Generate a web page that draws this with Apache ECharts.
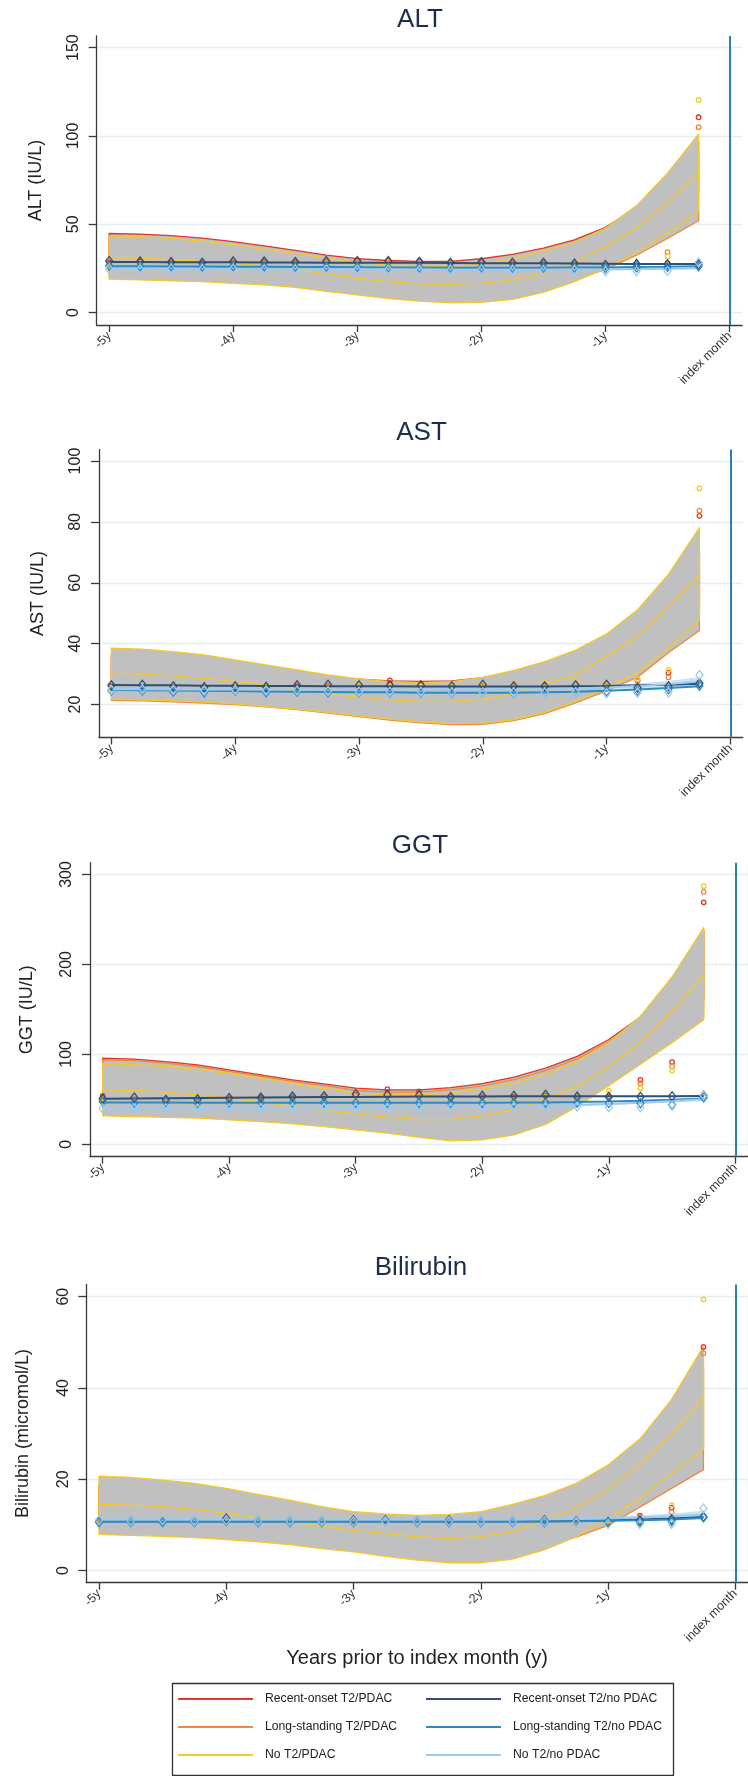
<!DOCTYPE html>
<html>
<head>
<meta charset="utf-8">
<title>Liver function tests before index month</title>
<script src="https://cdn.jsdelivr.net/npm/echarts@6/dist/echarts.min.js"></script>
<style>
  html, body { margin: 0; padding: 0; background: #ffffff; }
  #chart { width: 748px; height: 1776px; }
</style>
</head>
<body>
<div id="chart"></div>
<script>
// ---- Time axis: quarters before the index month, in years ----
const QUARTERS = [-5, -4.75, -4.5, -4.25, -4, -3.75, -3.5, -3.25, -3, -2.75, -2.5, -2.25, -2, -1.75, -1.5, -1.25, -1, -0.75, -0.5, -0.25];
const X_TICKS = [-5, -4, -3, -2, -1, 0];
const X_TICK_LABELS = ['-5y', '-4y', '-3y', '-2y', '-1y', 'index month'];
const INDEX_MONTH = 0;

const GROUPS_PDAC = ['Recent-onset T2/PDAC', 'Long-standing T2/PDAC', 'No T2/PDAC'];
const GROUPS_NO_PDAC = ['Recent-onset T2/no PDAC', 'Long-standing T2/no PDAC', 'No T2/no PDAC'];

// ---- ALT ----
const ALT_Y_TICKS = [0, 50, 100, 150];
const ALT_RED_HI = [44.8, 44.5, 43.6, 42.2, 40.2, 37.8, 35.2, 32.6, 30.6, 29.5, 29.0, 29.0, 30.5, 33.0, 36.5, 41.2, 48.3, 59.5, 77.0, 97.0];
const ALT_RED_LO = [24.0, 24.0, 23.5, 23.0, 22.0, 21.0, 19.5, 18.0, 16.5, 15.5, 15.0, 15.0, 16.0, 18.0, 21.5, 26.0, 33.0, 42.0, 55.0, 68.0];
const ALT_ORG_HI = [41.0, 41.0, 40.0, 38.5, 36.5, 34.0, 31.5, 29.0, 27.0, 25.5, 24.5, 24.5, 26.0, 28.5, 32.0, 37.0, 44.0, 55.0, 72.0, 92.0];
const ALT_ORG_LO = [21.0, 21.0, 20.5, 20.0, 19.5, 18.5, 17.5, 16.0, 14.5, 13.0, 12.0, 11.5, 12.0, 13.0, 15.0, 18.5, 24.5, 32.5, 42.0, 52.0];
const ALT_YEL_HI = [43.4, 43.0, 42.0, 40.5, 38.5, 36.0, 33.5, 31.0, 28.5, 27.0, 26.0, 26.0, 27.5, 30.5, 35.0, 39.6, 47.8, 60.6, 79.0, 101.0];
const ALT_YEL_FIT = [31.0, 30.8, 30.0, 29.0, 28.0, 26.5, 24.5, 22.0, 19.5, 17.5, 16.3, 16.0, 16.6, 18.5, 22.5, 28.5, 37.4, 47.8, 62.3, 79.0];
const ALT_YEL_LO = [19.0, 18.5, 18.0, 17.5, 16.6, 15.7, 14.3, 12.0, 10.0, 8.0, 6.5, 5.5, 5.8, 7.5, 11.5, 17.5, 25.0, 34.0, 45.0, 57.0];
const ALT_RED_OBS = [28.5, 29.0, 28.5, 28.0, 28.5, 29.0, 28.5, 29.0, 29.5, 29.5, 29.0, 28.5, 28.5, 28.0, 28.0, 27.5, 27.0, 27.5, 28.0, 110.6];
const ALT_ORG_OBS = [27.5, 28.0, 28.0, 27.5, 28.0, 28.0, 28.0, 28.5, 28.5, 28.5, 28.0, 28.0, 28.0, 27.5, 27.5, 27.0, 26.5, 27.0, 34.2, 105.0];
const ALT_YEL_OBS = [26.0, 26.5, 26.0, 26.0, 26.5, 26.0, 26.0, 26.5, 26.5, 26.0, 26.0, 26.0, 26.0, 25.5, 25.5, 25.5, 27.0, 26.5, 31.8, 120.4];
const ALT_NAVY_FIT = [28.6, 28.6, 28.5, 28.5, 28.5, 28.4, 28.4, 28.3, 28.3, 28.2, 28.2, 28.1, 28.0, 28.0, 27.9, 27.8, 27.7, 27.6, 27.5, 27.5];
const ALT_NAVY_OBS = [29.2, 29.0, 28.6, 28.2, 29.0, 29.0, 28.6, 29.2, 29.2, 29.2, 28.8, 28.2, 28.6, 28.2, 28.2, 27.8, 27.0, 27.6, 27.4, 27.4];
const ALT_MID_FIT = [26.2, 26.2, 26.1, 26.1, 26.0, 26.0, 25.9, 25.8, 25.7, 25.6, 25.5, 25.4, 25.4, 25.4, 25.4, 25.5, 25.6, 25.8, 26.0, 26.3];
const ALT_MID_OBS = [26.5, 26.3, 26.2, 26.0, 26.3, 26.2, 26.0, 26.0, 25.8, 25.6, 25.4, 25.4, 25.4, 25.3, 25.4, 25.4, 25.2, 25.6, 25.8, 26.2];
const ALT_LIGHT_FIT = [24.8, 24.8, 24.8, 24.7, 24.7, 24.6, 24.6, 24.5, 24.5, 24.4, 24.4, 24.3, 24.3, 24.3, 24.3, 24.4, 24.5, 24.7, 25.0, 25.4];
const ALT_LIGHT_LO = [24.2, 24.3, 24.3, 24.3, 24.3, 24.2, 24.2, 24.1, 24.1, 24.0, 24.0, 23.9, 23.9, 23.9, 23.9, 23.9, 23.9, 24.0, 24.1, 24.3];
const ALT_LIGHT_HI = [25.4, 25.3, 25.3, 25.1, 25.1, 25.0, 25.0, 24.9, 24.9, 24.8, 24.8, 24.7, 24.7, 24.7, 24.7, 24.9, 25.1, 25.4, 25.9, 26.5];
const ALT_LIGHT_OBS = [24.8, 24.6, 24.8, 24.6, 24.8, 24.6, 24.4, 24.6, 24.4, 24.4, 24.2, 24.2, 24.4, 24.2, 24.0, 24.2, 23.4, 23.4, 23.6, 28.4];

// ---- AST ----
const AST_Y_TICKS = [20, 40, 60, 80, 100];
const AST_RED_HI = [36.5, 36.3, 35.6, 34.6, 33.2, 31.6, 30.2, 29.0, 28.3, 27.8, 27.6, 27.8, 28.8, 30.4, 32.5, 35.5, 40.0, 47.0, 57.0, 70.0];
const AST_RED_LO = [24.0, 24.0, 23.8, 23.5, 23.0, 22.4, 21.6, 20.8, 20.0, 19.4, 19.0, 18.8, 19.2, 20.3, 22.2, 25.0, 29.0, 34.5, 42.0, 52.0];
const AST_ORG_HI = [35.0, 34.8, 34.2, 33.3, 32.0, 30.6, 29.2, 27.8, 26.8, 26.2, 26.0, 26.2, 27.2, 28.8, 31.0, 34.2, 38.8, 45.5, 55.0, 67.0];
const AST_ORG_LO = [21.4, 21.2, 20.9, 20.5, 20.0, 19.2, 18.3, 17.2, 16.0, 14.9, 14.0, 13.4, 13.5, 14.7, 17.0, 20.5, 24.5, 29.0, 37.0, 44.3];
const AST_YEL_HI = [38.5, 38.2, 37.4, 36.3, 34.7, 33.0, 31.4, 29.7, 28.4, 27.5, 27.2, 27.5, 28.9, 31.2, 34.1, 37.9, 43.2, 51.1, 62.8, 78.1];
const AST_YEL_FIT = [30.3, 30.0, 29.4, 28.6, 27.6, 26.5, 24.8, 23.4, 22.4, 21.5, 21.0, 21.0, 21.8, 23.7, 26.5, 29.7, 35.8, 42.3, 52.0, 62.6];
const AST_YEL_LO = [21.8, 21.5, 21.2, 20.8, 20.2, 19.3, 18.5, 17.4, 16.3, 15.2, 14.3, 13.7, 13.9, 15.0, 17.4, 21.0, 25.4, 30.5, 38.5, 47.8];
const AST_RED_OBS = [26.0, 25.5, 25.5, 25.5, 25.5, 25.5, 26.0, 26.0, 26.0, 27.9, 26.5, 26.0, 26.0, 26.0, 26.0, 26.5, 26.5, 27.8, 30.5, 82.0];
const AST_ORG_OBS = [25.5, 25.5, 25.0, 25.0, 25.5, 25.5, 25.5, 26.0, 26.0, 26.0, 26.0, 25.5, 26.0, 26.0, 26.5, 26.5, 26.0, 28.0, 28.9, 83.7];
const AST_YEL_OBS = [25.5, 25.5, 26.0, 25.5, 26.0, 26.0, 25.5, 25.5, 26.0, 26.0, 26.0, 26.0, 26.8, 26.5, 27.0, 27.9, 26.5, 28.3, 31.4, 91.0];
const AST_NAVY_FIT = [26.4, 26.3, 26.3, 26.2, 26.2, 26.1, 26.1, 26.0, 26.0, 26.0, 25.9, 25.9, 25.9, 25.9, 25.9, 26.0, 26.1, 26.3, 26.5, 26.8];
const AST_NAVY_OBS = [26.3, 26.5, 26.0, 25.7, 26.0, 25.8, 26.3, 26.5, 26.3, 26.3, 26.3, 26.0, 26.5, 26.0, 26.0, 26.3, 26.5, 25.5, 26.0, 27.0];
const AST_MID_FIT = [24.8, 24.7, 24.6, 24.5, 24.4, 24.3, 24.2, 24.1, 24.0, 24.0, 23.9, 23.9, 23.9, 23.9, 24.0, 24.2, 24.5, 24.9, 25.4, 26.0];
const AST_MID_OBS = [24.5, 24.6, 24.2, 24.0, 24.5, 24.0, 24.2, 24.0, 24.0, 24.0, 24.0, 23.8, 24.0, 23.8, 24.0, 24.0, 24.3, 24.5, 25.0, 26.2];
const AST_LIGHT_FIT = [25.0, 25.0, 24.9, 24.9, 24.9, 24.9, 24.9, 24.9, 24.9, 24.9, 24.9, 24.9, 25.0, 25.0, 25.1, 25.3, 25.6, 26.1, 26.7, 27.6];
const AST_LIGHT_LO = [24.5, 24.6, 24.6, 24.6, 24.6, 24.6, 24.6, 24.6, 24.6, 24.6, 24.6, 24.6, 24.6, 24.6, 24.7, 24.8, 25.0, 25.3, 25.7, 26.2];
const AST_LIGHT_HI = [25.5, 25.4, 25.2, 25.2, 25.2, 25.2, 25.2, 25.2, 25.2, 25.2, 25.2, 25.2, 25.4, 25.4, 25.5, 25.8, 26.2, 26.9, 27.7, 29.0];
const AST_LIGHT_OBS = [24.8, 25.0, 24.8, 24.6, 24.8, 24.6, 24.6, 24.4, 24.2, 24.2, 24.2, 24.0, 24.0, 24.0, 24.0, 24.0, 23.7, 23.9, 24.0, 29.7];

// ---- GGT ----
const GGT_Y_TICKS = [0, 100, 200, 300];
const GGT_RED_HI = [95.8, 94.7, 92.0, 88.4, 82.8, 77.2, 71.7, 67.2, 62.4, 60.5, 60.5, 63.0, 67.5, 74.6, 84.7, 97.7, 116.5, 141.5, 184.0, 238.0];
const GGT_RED_LO = [45.0, 44.5, 43.5, 42.0, 40.0, 37.5, 35.0, 32.0, 29.5, 28.0, 27.5, 28.5, 31.0, 36.0, 44.0, 56.0, 72.0, 95.0, 125.0, 160.0];
const GGT_ORG_HI = [94.0, 93.0, 90.3, 86.5, 81.0, 75.5, 70.0, 65.2, 60.0, 58.0, 58.0, 60.5, 65.0, 72.0, 82.0, 95.0, 114.0, 140.0, 183.0, 237.0];
const GGT_ORG_LO = [38.0, 37.5, 36.5, 35.0, 33.0, 31.0, 28.5, 26.0, 23.0, 21.0, 19.5, 19.5, 21.5, 26.0, 34.0, 46.0, 66.0, 90.0, 115.0, 141.0];
const GGT_YEL_HI = [89.5, 88.5, 86.5, 83.0, 79.0, 73.5, 68.0, 62.0, 56.8, 55.0, 55.0, 56.8, 61.3, 68.0, 77.2, 92.0, 113.0, 142.5, 186.0, 241.0];
const GGT_YEL_FIT = [60.5, 59.8, 58.0, 55.0, 51.2, 47.5, 42.0, 37.5, 33.8, 30.1, 27.5, 27.8, 31.6, 38.2, 50.0, 65.0, 86.0, 114.0, 148.0, 188.0];
const GGT_YEL_LO = [31.6, 30.8, 30.0, 29.0, 27.1, 25.2, 22.7, 19.7, 16.0, 12.3, 7.8, 3.7, 4.8, 10.4, 22.0, 42.0, 65.0, 89.0, 113.0, 138.5];
const GGT_RED_OBS = [53.8, 50.0, 50.0, 50.0, 51.0, 52.0, 52.0, 53.0, 55.0, 61.3, 58.7, 52.0, 53.0, 53.0, 54.0, 52.0, 53.0, 71.6, 91.3, 269.0];
const GGT_ORG_OBS = [50.0, 50.0, 49.0, 49.0, 50.0, 50.0, 51.0, 52.0, 54.0, 55.0, 56.0, 52.0, 52.0, 52.0, 53.0, 52.0, 52.0, 68.0, 86.5, 280.7];
const GGT_YEL_OBS = [48.0, 48.0, 48.0, 47.0, 48.0, 49.0, 49.0, 50.0, 52.0, 53.0, 54.0, 51.0, 51.0, 51.0, 52.0, 52.0, 59.7, 62.4, 82.0, 287.0];
const GGT_NAVY_FIT = [50.5, 50.8, 51.1, 51.4, 51.7, 52.0, 52.3, 52.5, 52.7, 52.9, 53.0, 53.1, 53.2, 53.3, 53.3, 53.4, 53.4, 53.5, 53.5, 53.6];
const GGT_NAVY_OBS = [50.5, 52.0, 49.5, 50.0, 51.5, 52.0, 53.0, 53.5, 56.0, 55.0, 54.5, 52.5, 54.0, 54.0, 55.0, 53.0, 52.8, 52.8, 53.5, 54.2];
const GGT_MID_FIT = [46.4, 46.4, 46.4, 46.3, 46.3, 46.3, 46.2, 46.2, 46.2, 46.2, 46.2, 46.2, 46.3, 46.4, 46.6, 47.0, 47.6, 48.5, 49.6, 51.0];
const GGT_MID_OBS = [47.5, 46.5, 47.0, 46.0, 46.5, 46.5, 46.5, 46.5, 46.0, 46.0, 46.0, 46.0, 46.0, 46.3, 46.3, 46.3, 46.0, 45.5, 44.0, 52.0];
const GGT_LIGHT_FIT = [40.2, 40.2, 40.2, 40.2, 40.3, 40.3, 40.4, 40.5, 40.6, 40.8, 41.0, 41.3, 41.7, 42.2, 42.9, 43.8, 44.9, 46.3, 48.0, 50.0];
const GGT_LIGHT_LO = [39.4, 39.5, 39.6, 39.6, 39.7, 39.7, 39.8, 39.9, 40.0, 40.2, 40.4, 40.7, 41.0, 41.5, 42.1, 42.9, 43.8, 45.0, 46.4, 48.0];
const GGT_LIGHT_HI = [41.0, 40.9, 40.8, 40.8, 40.9, 40.9, 41.0, 41.1, 41.2, 41.4, 41.6, 41.9, 42.4, 42.9, 43.7, 44.7, 46.0, 47.6, 49.6, 52.0];
const GGT_LIGHT_OBS = [39.5, 40.0, 40.0, 39.5, 40.0, 40.0, 40.5, 40.5, 40.5, 40.5, 40.5, 40.5, 41.0, 41.5, 41.5, 41.9, 41.1, 41.1, 42.8, 54.2];

// ---- Bilirubin ----
const BIL_Y_TICKS = [0, 20, 40, 60];
const BIL_RED_HI = [18.0, 17.8, 17.3, 16.7, 15.8, 14.8, 13.7, 12.6, 11.7, 11.2, 11.0, 11.2, 11.8, 13.1, 14.8, 17.2, 20.8, 26.0, 33.5, 44.0];
const BIL_RED_LO = [10.0, 9.8, 9.6, 9.3, 8.9, 8.4, 7.8, 7.1, 6.4, 5.8, 5.3, 5.0, 5.1, 5.7, 6.9, 8.9, 12.0, 16.5, 21.5, 27.0];
const BIL_ORG_HI = [19.0, 18.8, 18.3, 17.6, 16.6, 15.5, 14.3, 13.1, 12.1, 11.6, 11.3, 11.5, 12.1, 13.5, 15.3, 17.8, 21.5, 26.8, 35.0, 46.0];
const BIL_ORG_LO = [9.0, 8.8, 8.6, 8.3, 8.0, 7.6, 7.1, 6.4, 5.7, 5.0, 4.4, 4.0, 4.0, 4.5, 5.5, 7.3, 9.9, 13.9, 18.0, 22.1];
const BIL_YEL_HI = [20.7, 20.4, 19.8, 19.1, 18.0, 16.7, 15.4, 14.0, 12.9, 12.4, 12.1, 12.3, 12.9, 14.5, 16.4, 19.1, 23.1, 28.8, 37.5, 49.1];
const BIL_YEL_FIT = [14.5, 14.3, 14.0, 13.4, 12.5, 11.5, 10.7, 9.7, 8.8, 8.1, 7.4, 7.0, 7.4, 8.5, 11.0, 13.6, 17.8, 23.3, 29.7, 37.9];
const BIL_YEL_LO = [7.9, 7.7, 7.5, 7.2, 6.8, 6.3, 5.7, 4.8, 4.1, 3.1, 2.3, 1.7, 1.7, 2.5, 4.5, 7.4, 11.2, 15.8, 21.3, 26.5];
const BIL_RED_OBS = [10.8, 10.8, 10.6, 10.8, 11.0, 10.6, 10.6, 10.8, 11.0, 11.0, 10.8, 10.8, 10.8, 10.8, 11.0, 11.0, 11.0, 12.0, 13.8, 49.0];
const BIL_ORG_OBS = [10.6, 10.6, 10.8, 10.6, 10.8, 10.8, 10.6, 10.6, 10.8, 10.8, 10.6, 10.8, 10.6, 10.8, 10.8, 11.0, 10.8, 11.6, 12.8, 47.6];
const BIL_YEL_OBS = [10.8, 10.6, 10.6, 10.8, 10.8, 10.6, 10.8, 10.8, 10.8, 10.6, 10.8, 10.6, 10.8, 10.8, 11.2, 11.2, 11.0, 11.2, 14.3, 59.4];
const BIL_NAVY_FIT = [10.8, 10.8, 10.8, 10.8, 10.8, 10.8, 10.8, 10.8, 10.8, 10.8, 10.8, 10.8, 10.8, 10.8, 10.9, 10.9, 11.0, 11.2, 11.4, 11.7];
const BIL_NAVY_OBS = [10.8, 10.8, 10.8, 10.8, 11.4, 10.8, 10.8, 10.8, 11.0, 11.0, 10.8, 11.0, 10.8, 10.8, 11.0, 10.8, 10.6, 11.0, 11.2, 11.8];
const BIL_MID_FIT = [10.7, 10.7, 10.7, 10.7, 10.7, 10.7, 10.7, 10.7, 10.7, 10.7, 10.7, 10.7, 10.7, 10.7, 10.7, 10.8, 10.9, 11.0, 11.2, 11.5];
const BIL_MID_OBS = [10.6, 10.6, 10.6, 10.6, 10.8, 10.6, 10.6, 10.6, 10.6, 10.8, 10.6, 10.6, 10.6, 10.6, 10.6, 10.6, 10.5, 10.6, 10.8, 11.6];
const BIL_LIGHT_FIT = [11.1, 11.1, 11.1, 11.1, 11.1, 11.1, 11.1, 11.1, 11.1, 11.1, 11.1, 11.1, 11.1, 11.1, 11.2, 11.3, 11.4, 11.6, 11.9, 12.3];
const BIL_LIGHT_LO = [10.6, 10.7, 10.7, 10.7, 10.8, 10.8, 10.8, 10.8, 10.8, 10.8, 10.8, 10.8, 10.8, 10.8, 10.9, 10.9, 11.0, 11.1, 11.3, 11.5];
const BIL_LIGHT_HI = [11.6, 11.5, 11.5, 11.5, 11.4, 11.4, 11.4, 11.4, 11.4, 11.4, 11.4, 11.4, 11.4, 11.4, 11.5, 11.7, 11.8, 12.1, 12.5, 13.1];
const BIL_LIGHT_OBS = [11.0, 10.8, 11.0, 10.8, 11.0, 10.8, 10.8, 10.8, 10.8, 10.8, 10.8, 10.8, 10.8, 10.8, 10.8, 10.6, 10.2, 10.2, 10.2, 13.6];

// ---- Styling ----
const FONT = "'Liberation Sans', Arial, Helvetica, sans-serif";
const C_RED = '#e3362b';
const C_ORANGE = '#ef8a3c';
const C_YELLOW = '#f4c92a';
const C_NAVY = '#2f4f73';
const C_MID = '#2b8cc4';
const C_LIGHT = '#9dcaee';
const C_BAND = '#c0c0c0';
const C_LIGHT_BAND = 'rgba(157, 202, 238, 0.55)';
const C_AXIS = '#3a3a3a';
const C_TEXT = '#222222';
const C_GRIDLINE = '#e4eef0';
const C_INDEX = '#2a80b4';
const C_TITLE = '#1f2d4d';

// Panel layout (pixel geometry of each plot region)
const PANELS = [
  { title: 'ALT', yName: 'ALT (IU/L)', yTicks: ALT_Y_TICKS, yMin: -7, yMax: 156.6,
    left: 96.7, top: 36, height: 289, yearPx: 124.1, nameGap: 52, titleX: 420, titleY: 20,
    red: [ALT_RED_LO, ALT_RED_HI, ALT_RED_OBS], orange: [ALT_ORG_LO, ALT_ORG_HI, ALT_ORG_OBS],
    yellow: [ALT_YEL_LO, ALT_YEL_HI, ALT_YEL_OBS, ALT_YEL_FIT],
    navy: [ALT_NAVY_FIT, ALT_NAVY_OBS], mid: [ALT_MID_FIT, ALT_MID_OBS],
    light: [ALT_LIGHT_FIT, ALT_LIGHT_OBS, ALT_LIGHT_LO, ALT_LIGHT_HI] },
  { title: 'AST', yName: 'AST (IU/L)', yTicks: AST_Y_TICKS, yMin: 9.16, yMax: 103.8,
    left: 99, top: 449.5, height: 288, yearPx: 123.8, nameGap: 52, titleX: 421.5, titleY: 433,
    red: [AST_RED_LO, AST_RED_HI, AST_RED_OBS], orange: [AST_ORG_LO, AST_ORG_HI, AST_ORG_OBS],
    yellow: [AST_YEL_LO, AST_YEL_HI, AST_YEL_OBS, AST_YEL_FIT],
    navy: [AST_NAVY_FIT, AST_NAVY_OBS], mid: [AST_MID_FIT, AST_MID_OBS],
    light: [AST_LIGHT_FIT, AST_LIGHT_OBS, AST_LIGHT_LO, AST_LIGHT_HI] },
  { title: 'GGT', yName: 'GGT (IU/L)', yTicks: GGT_Y_TICKS, yMin: -13.8, yMax: 313.1,
    left: 90, top: 862.7, height: 294, yearPx: 126.7, nameGap: 54, titleX: 420, titleY: 846,
    red: [GGT_RED_LO, GGT_RED_HI, GGT_RED_OBS], orange: [GGT_ORG_LO, GGT_ORG_HI, GGT_ORG_OBS],
    yellow: [GGT_YEL_LO, GGT_YEL_HI, GGT_YEL_OBS, GGT_YEL_FIT],
    navy: [GGT_NAVY_FIT, GGT_NAVY_OBS], mid: [GGT_MID_FIT, GGT_MID_OBS],
    light: [GGT_LIGHT_FIT, GGT_LIGHT_OBS, GGT_LIGHT_LO, GGT_LIGHT_HI] },
  { title: 'Bilirubin', yName: 'Bilirubin (micromol/L)', yTicks: BIL_Y_TICKS, yMin: -2.67, yMax: 62.67,
    left: 86.3, top: 1284.5, height: 298.2, yearPx: 128.4, nameGap: 54, titleX: 421, titleY: 1268,
    red: [BIL_RED_LO, BIL_RED_HI, BIL_RED_OBS], orange: [BIL_ORG_LO, BIL_ORG_HI, BIL_ORG_OBS],
    yellow: [BIL_YEL_LO, BIL_YEL_HI, BIL_YEL_OBS, BIL_YEL_FIT],
    navy: [BIL_NAVY_FIT, BIL_NAVY_OBS], mid: [BIL_MID_FIT, BIL_MID_OBS],
    light: [BIL_LIGHT_FIT, BIL_LIGHT_OBS, BIL_LIGHT_LO, BIL_LIGHT_HI] }
];
const X_MIN = -5.1;
const X_MAX = 0.1;

// Confidence band drawn as one closed polygon through the axis scales
function bandSeries(idx, name, lo, hi, fill, stroke, lineWidth, z) {
  const pts = QUARTERS.map((q, k) => [q, lo[k], hi[k]]);
  return {
    type: 'custom', name, xAxisIndex: idx, yAxisIndex: idx, z, silent: true,
    data: pts, encode: { x: 0, y: [1, 2] },
    renderItem: (params, api) => {
      if (params.dataIndex !== 0) return null;
      const upper = pts.map(p => api.coord([p[0], p[2]]));
      const lower = pts.map(p => api.coord([p[0], p[1]])).reverse();
      return {
        type: 'polygon',
        shape: { points: upper.concat(lower) },
        style: { fill, stroke: stroke || null, lineWidth: stroke ? lineWidth : 0, lineJoin: 'round' }
      };
    }
  };
}

function lineSeries(idx, name, vals, color, width, z) {
  return {
    type: 'line', name, xAxisIndex: idx, yAxisIndex: idx, z, silent: true,
    data: QUARTERS.map((q, k) => [q, vals[k]]),
    symbol: 'none', showSymbol: false,
    lineStyle: { color, width }, itemStyle: { color }
  };
}

function pointSeries(idx, name, vals, color, symbol, size, z) {
  return {
    type: 'scatter', name, xAxisIndex: idx, yAxisIndex: idx, z, silent: true,
    data: QUARTERS.map((q, k) => [q, vals[k]]),
    symbol, symbolSize: size,
    itemStyle: { color: 'rgba(255,255,255,0)', borderColor: color, borderWidth: 1.3, opacity: 1 }
  };
}

const grids = [], xAxes = [], yAxes = [], titles = [], series = [];

PANELS.forEach((p, i) => {
  grids.push({ left: p.left, top: p.top, width: p.yearPx * (X_MAX - X_MIN), height: p.height, containLabel: false });
  titles.push({
    text: p.title, left: p.titleX, top: p.titleY, textAlign: 'center', textVerticalAlign: 'middle', padding: 0,
    textStyle: { fontFamily: FONT, fontSize: 26, fontWeight: 'normal', color: C_TITLE }
  });
  const isLast = i === PANELS.length - 1;
  xAxes.push({
    gridIndex: i, type: 'value', min: X_MIN, max: X_MAX,
    name: isLast ? 'Years prior to index month (y)' : '',
    nameLocation: 'middle', nameGap: 66,
    nameTextStyle: { fontFamily: FONT, fontSize: 20, color: C_TEXT },
    axisLine: { show: true, onZero: false, lineStyle: { color: C_AXIS, width: 1.3 } },
    axisTick: { show: true, customValues: X_TICKS, length: 7, lineStyle: { color: C_AXIS, width: 1.3 } },
    axisLabel: {
      customValues: X_TICKS, rotate: 45, margin: 9, fontFamily: FONT, fontSize: 12.5, color: '#333',
      formatter: v => X_TICK_LABELS[X_TICKS.indexOf(v)]
    },
    splitLine: { show: false }
  });
  yAxes.push({
    gridIndex: i, type: 'value', min: p.yMin, max: p.yMax,
    name: p.yName, nameLocation: 'middle', nameGap: p.nameGap,
    nameTextStyle: { fontFamily: FONT, fontSize: 18, color: C_TEXT },
    axisLine: { show: true, onZero: false, lineStyle: { color: C_AXIS, width: 1.3 } },
    axisTick: { show: true, customValues: p.yTicks, length: 8, lineStyle: { color: C_AXIS, width: 1.3 } },
    axisLabel: { customValues: p.yTicks, rotate: 90, margin: 15, fontFamily: FONT, fontSize: 16, color: C_TEXT },
    splitLine: { show: true, lineStyle: { color: C_GRIDLINE, width: 1.3 } }
  });

  // PDAC groups: confidence bands (later bands cover earlier ones), fitted line, observed means
  series.push(bandSeries(i, GROUPS_PDAC[0], p.red[0], p.red[1], C_BAND, C_RED, 1.3, 2));
  series.push(bandSeries(i, GROUPS_PDAC[1], p.orange[0], p.orange[1], C_BAND, C_ORANGE, 1.3, 3));
  series.push(bandSeries(i, GROUPS_PDAC[2], p.yellow[0], p.yellow[1], C_BAND, C_YELLOW, 1.3, 4));
  series.push(lineSeries(i, GROUPS_PDAC[2], p.yellow[3], C_YELLOW, 1.3, 5));
  series.push(pointSeries(i, GROUPS_PDAC[0], p.red[2], C_RED, 'circle', 4.5, 6));
  series.push(pointSeries(i, GROUPS_PDAC[1], p.orange[2], C_ORANGE, 'circle', 4.5, 6));
  series.push(pointSeries(i, GROUPS_PDAC[2], p.yellow[2], C_YELLOW, 'circle', 4.5, 6));

  // No-PDAC groups: fitted lines with observed means as hollow diamonds
  series.push(bandSeries(i, GROUPS_NO_PDAC[2], p.light[2], p.light[3], C_LIGHT_BAND, null, 0, 7));
  series.push(lineSeries(i, GROUPS_NO_PDAC[0], p.navy[0], C_NAVY, 2, 8));
  series.push(lineSeries(i, GROUPS_NO_PDAC[1], p.mid[0], C_MID, 2, 8));
  series.push(lineSeries(i, GROUPS_NO_PDAC[2], p.light[0], C_LIGHT, 2, 8));
  series.push(pointSeries(i, GROUPS_NO_PDAC[0], p.navy[1], C_NAVY, 'diamond', [7, 9], 9));
  series.push(pointSeries(i, GROUPS_NO_PDAC[1], p.mid[1], C_MID, 'diamond', [7, 9], 9));
  const lightPts = pointSeries(i, GROUPS_NO_PDAC[2], p.light[1], C_LIGHT, 'diamond', [7, 9], 9);
  // Reference line at the index month
  lightPts.markLine = {
    silent: true, symbol: ['none', 'none'], label: { show: false },
    lineStyle: { color: C_INDEX, width: 2, type: 'solid' },
    data: [{ xAxis: INDEX_MONTH }]
  };
  series.push(lightPts);
});

const legendCommon = {
  orient: 'vertical', top: 1692, itemWidth: 75, itemHeight: 2, itemGap: 14, icon: 'rect',
  selectedMode: false, padding: 0,
  textStyle: { fontFamily: FONT, fontSize: 12.2, color: C_TEXT, lineHeight: 14, padding: [0, 0, 0, 7] }
};

const option = {
  animation: false,
  backgroundColor: '#ffffff',
  title: titles,
  grid: grids,
  xAxis: xAxes,
  yAxis: yAxes,
  legend: [
    Object.assign({}, legendCommon, {
      left: 178,
      data: GROUPS_PDAC.map((n, k) => ({ name: n, itemStyle: { color: [C_RED, C_ORANGE, C_YELLOW][k], borderWidth: 0 } }))
    }),
    Object.assign({}, legendCommon, {
      left: 426,
      data: GROUPS_NO_PDAC.map((n, k) => ({ name: n, itemStyle: { color: [C_NAVY, C_MID, C_LIGHT][k], borderWidth: 0 } }))
    })
  ],
  graphic: [{
    type: 'rect', left: 170, top: 1681, silent: true,
    shape: { width: 501, height: 92 },
    style: { fill: 'none', stroke: '#333333', lineWidth: 1.3 }
  }],
  series
};

const chart = echarts.init(document.getElementById('chart'), null, { renderer: 'canvas' });
chart.setOption(option);
</script>
</body>
</html>
